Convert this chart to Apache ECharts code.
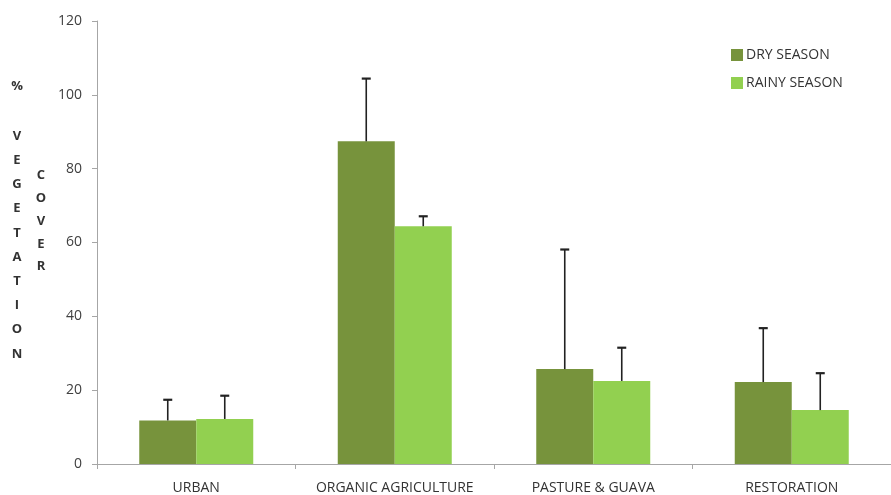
<!DOCTYPE html>
<html>
<head>
<meta charset="utf-8">
<script src="https://cdn.jsdelivr.net/npm/echarts@6/dist/echarts.min.js"></script>
<style>
  html, body { margin: 0; padding: 0; background: #fff; }
  #chart { width: 891px; height: 495px; }
</style>
</head>
<body>
<div id="chart"></div>
<script>
// Land-use categories and mean vegetation cover per season
const categories = ['URBAN', 'ORGANIC AGRICULTURE', 'PASTURE & GUAVA', 'RESTORATION'];
const dryValues = [11.8, 87.4, 25.7, 22.2];
const rainyValues = [12.2, 64.4, 22.5, 14.6];
// Upper error (standard deviation) for each bar
const dryErrors = [5.6, 17.0, 32.4, 14.6];
const rainyErrors = [6.3, 2.7, 9.0, 10.0];
const yTicks = [0, 20, 40, 60, 80, 100, 120];

const DRY_COLOR = '#77933c';
const RAINY_COLOR = '#92d050';
const BAR_WIDTH = 57;
const FONT = 'Open Sans';

const chart = echarts.init(document.getElementById('chart'));

// Upward-only error bar with a short cap, offset to sit over its bar
function errorBar(values, errors, offset) {
  return function (params, api) {
    const i = api.value(0);
    const base = api.coord([i, values[i]]);
    const top = api.coord([i, values[i] + errors[i]]);
    const x = base[0] + offset;
    const cap = 4.5;
    return {
      type: 'group',
      children: [
        { type: 'line', shape: { x1: x, y1: base[1], x2: x, y2: top[1] }, style: { stroke: '#222', lineWidth: 1.6 } },
        { type: 'line', shape: { x1: x - cap, y1: top[1], x2: x + cap, y2: top[1] }, style: { stroke: '#222', lineWidth: 2.2 } }
      ]
    };
  };
}

chart.setOption({
  animation: false,
  backgroundColor: '#fff',
  grid: { left: 97, right: 0, top: 21, bottom: 30, containLabel: false },
  legend: {
    orient: 'vertical',
    left: 731,
    top: 48,
    padding: 0,
    itemWidth: 12,
    itemHeight: 12,
    itemGap: 14,
    icon: 'rect',
    data: ['DRY SEASON', 'RAINY SEASON'],
    textStyle: { color: '#333', fontFamily: FONT, fontSize: 14, lineHeight: 14, padding: [0, 0, 0, -2] }
  },
  xAxis: {
    type: 'category',
    data: categories,
    axisLine: { lineStyle: { color: '#a6a6a6', width: 1 } },
    axisTick: { show: true, interval: 0, length: 5, lineStyle: { color: '#a6a6a6' } },
    axisLabel: { interval: 0, hideOverlap: false, margin: 17, color: '#333', fontFamily: FONT, fontSize: 14 }
  },
  yAxis: {
    type: 'value',
    min: yTicks[0],
    max: yTicks[yTicks.length - 1],
    interval: yTicks[1] - yTicks[0],
    splitLine: { show: false },
    axisLine: { show: true, lineStyle: { color: '#a6a6a6', width: 1 } },
    axisTick: { show: true, length: 5, lineStyle: { color: '#a6a6a6' } },
    axisLabel: { margin: 15, color: '#404040', fontFamily: FONT, fontSize: 14 }
  },
  series: [
    {
      name: 'DRY SEASON',
      type: 'bar',
      data: dryValues,
      barWidth: BAR_WIDTH,
      barGap: '0%',
      itemStyle: { color: DRY_COLOR }
    },
    {
      name: 'RAINY SEASON',
      type: 'bar',
      data: rainyValues,
      barWidth: BAR_WIDTH,
      barGap: '0%',
      itemStyle: { color: RAINY_COLOR }
    },
    {
      type: 'custom',
      renderItem: errorBar(dryValues, dryErrors, -BAR_WIDTH / 2),
      data: categories.map((c, i) => [i]),
      z: 10
    },
    {
      type: 'custom',
      renderItem: errorBar(rainyValues, rainyErrors, BAR_WIDTH / 2),
      data: categories.map((c, i) => [i]),
      z: 10
    }
  ],
  graphic: [
    {
      type: 'text', x: 17, y: 80,
      style: { text: '%', fill: '#333', font: 'bold 13px "Open Sans"', align: 'center' }
    },
    {
      type: 'text', x: 17, y: 124,
      style: {
        text: 'VEGETATION'.split('').join('\n'),
        fill: '#333', font: 'bold 13px "Open Sans"',
        align: 'center', lineHeight: 24.2
      }
    },
    {
      type: 'text', x: 41, y: 164,
      style: {
        text: 'COVER'.split('').join('\n'),
        fill: '#333', font: 'bold 13px "Open Sans"',
        align: 'center', lineHeight: 22.8
      }
    }
  ]
});
</script>
</body>
</html>
